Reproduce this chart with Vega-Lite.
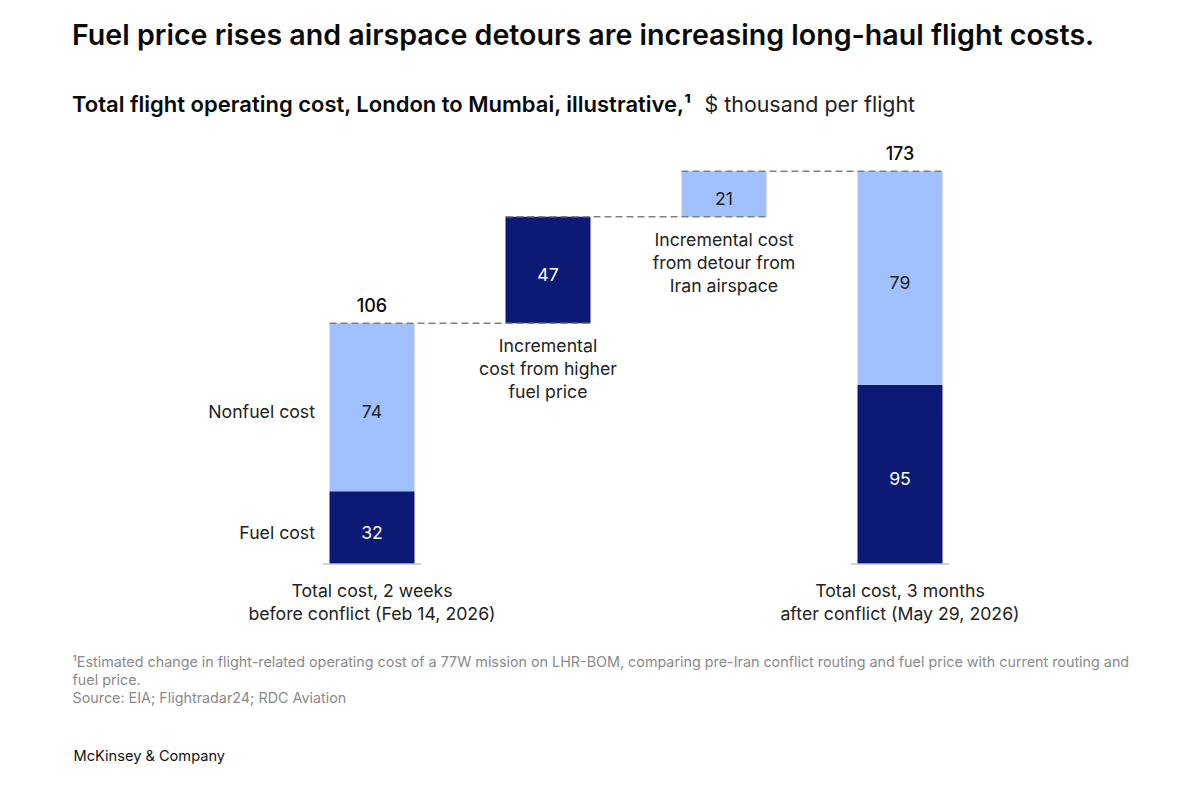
{
  "$schema": "https://vega.github.io/schema/vega-lite/v6.json",
  "autosize": {"type": "none"},
  "padding": {"left": 284, "top": 144, "right": 212, "bottom": 235},
  "width": 704,
  "height": 420,
  "background": "white",
  "title": {
    "text": "Fuel price rises and airspace detours are increasing long-haul flight costs.",
    "subtitle": "Total flight operating cost, London to Mumbai, illustrative,¹",
    "anchor": "start",
    "frame": "group",
    "dx": -212,
    "offset": -22,
    "font": "Inter",
    "fontSize": 28.6,
    "fontWeight": 600,
    "color": "#0a0a0a",
    "subtitleFont": "Inter",
    "subtitleFontSize": 22,
    "subtitleFontWeight": 600,
    "subtitleColor": "#0a0a0a",
    "subtitlePadding": 44
  },
  "config": {
    "view": {"stroke": null},
    "font": "Inter",
    "text": {"font": "Inter", "fontSize": 17.7, "color": "#222222"},
    "axis": {"grid": false}
  },
  "datasets": {
    "bars": [
      {"step": "Before", "part": "Fuel cost", "low": 0, "high": 32, "label": 32},
      {"step": "Before", "part": "Nonfuel cost", "low": 32, "high": 106, "label": 74},
      {"step": "Fuel", "part": "Fuel cost", "low": 106, "high": 153, "label": 47},
      {"step": "Detour", "part": "Nonfuel cost", "low": 153, "high": 173, "label": 21},
      {"step": "After", "part": "Fuel cost", "low": 0, "high": 79, "label": 95},
      {"step": "After", "part": "Nonfuel cost", "low": 79, "high": 173, "label": 79}
    ],
    "links": [
      {"from": "Before", "to": "Fuel", "level": 106},
      {"from": "Fuel", "to": "Detour", "level": 153},
      {"from": "Detour", "to": "After", "level": 173}
    ],
    "totals": [
      {"step": "Before", "total": 106, "zero": 0},
      {"step": "After", "total": 173, "zero": 0}
    ],
    "notes": [
      {"step": "Fuel", "low": 106, "note": "Incremental|cost from higher|fuel price"},
      {"step": "Detour", "low": 153, "note": "Incremental cost|from detour from|Iran airspace"}
    ]
  },
  "resolve": {
    "axis": {"x": "independent", "y": "independent"},
    "scale": {"color": "independent"}
  },
  "layer": [
    {
      "data": {"name": "bars"},
      "mark": {"type": "bar"},
      "encoding": {
        "x": {
          "field": "step",
          "type": "nominal",
          "sort": null,
          "scale": {"domain": ["Before", "Fuel", "Detour", "After"], "paddingInner": 0.517, "paddingOuter": 0.2585},
          "axis": {
            "orient": "bottom",
            "values": ["Before", "After"],
            "domain": false,
            "ticks": false,
            "labelAngle": 0,
            "labelFont": "Inter",
            "labelFontSize": 17.7,
            "labelColor": "#222222",
            "labelPadding": 18,
            "labelLineHeight": 23,
            "labelBaseline": "top",
            "labelLimit": 400,
            "labelExpr": "datum.value == 'Before' ? ['Total cost, 2 weeks', 'before conflict (Feb 14, 2026)'] : ['Total cost, 3 months', 'after conflict (May 29, 2026)']",
            "title": ["¹Estimated change in flight-related operating cost of a 77W mission on LHR-BOM, comparing pre-Iran conflict routing and fuel price with current routing and", "\u00a0fuel price.", "\u00a0Source: EIA; Flightradar24; RDC Aviation"],
            "titleFont": "Inter",
            "titleFontSize": 14.33,
            "titleFontWeight": 400,
            "titleColor": "#8a8a8a",
            "titleAlign": "left",
            "titleAnchor": "start",
            "titleBaseline": "alphabetic",
            "titleLineHeight": 18,
            "titleLimit": 1100,
            "titleX": -212,
            "titleY": 102
          }
        },
        "y": {
          "field": "low",
          "type": "quantitative",
          "scale": {"domain": [0, 185]},
          "axis": {
            "domain": false,
            "ticks": false,
            "labels": false,
            "title": "$ thousand per flight",
            "titleFont": "Inter",
            "titleFontSize": 21.4,
            "titleFontWeight": 400,
            "titleColor": "#222222",
            "titleAngle": 0,
            "titleAlign": "left",
            "titleBaseline": "alphabetic",
            "titleX": 420,
            "titleY": -33
          }
        },
        "y2": {"field": "high"},
        "color": {
          "field": "part",
          "type": "nominal",
          "scale": {"domain": ["Fuel cost", "Nonfuel cost"], "range": ["#0d1a75", "#a0c1fe"]},
          "legend": null
        }
      }
    },
    {
      "data": {"name": "bars"},
      "transform": [
        {"fold": ["low", "high"], "as": ["edge", "edgeValue"]},
        {"aggregate": [{"op": "mean", "field": "edgeValue", "as": "mid"}], "groupby": ["step", "part", "label"]}
      ],
      "mark": {"type": "text", "align": "center", "baseline": "middle", "dy": 6},
      "encoding": {
        "x": {"field": "step", "type": "nominal", "sort": null, "axis": null},
        "y": {"field": "mid", "type": "quantitative", "scale": {"domain": [0, 185]}, "axis": null},
        "text": {"field": "label", "type": "quantitative"},
        "color": {
          "field": "part",
          "type": "nominal",
          "scale": {"domain": ["Fuel cost", "Nonfuel cost"], "range": ["#ffffff", "#222222"]},
          "legend": null
        }
      }
    },
    {
      "data": {"name": "bars"},
      "transform": [
        {"filter": "datum.step == 'Before'"},
        {"fold": ["low", "high"], "as": ["edge", "edgeValue"]},
        {"aggregate": [{"op": "mean", "field": "edgeValue", "as": "mid"}], "groupby": ["step", "part"]}
      ],
      "mark": {"type": "text", "align": "right", "baseline": "middle", "dx": -57, "dy": 6},
      "encoding": {
        "x": {"field": "step", "type": "nominal", "sort": null, "axis": null},
        "y": {"field": "mid", "type": "quantitative", "scale": {"domain": [0, 185]}, "axis": null},
        "text": {"field": "part", "type": "nominal"}
      }
    },
    {
      "data": {"name": "links"},
      "mark": {"type": "rule", "color": "#808080", "strokeWidth": 1.5, "strokeDash": [7, 4], "xOffset": -42.5, "x2Offset": 42.5},
      "encoding": {
        "x": {"field": "from", "type": "nominal", "sort": null, "axis": null},
        "x2": {"field": "to"},
        "y": {"field": "level", "type": "quantitative", "scale": {"domain": [0, 185]}, "axis": null}
      }
    },
    {
      "data": {"name": "totals"},
      "mark": {"type": "rule", "color": "#c4c4c4", "strokeWidth": 1.5, "xOffset": -49, "x2Offset": 49},
      "encoding": {
        "x": {
          "field": "step",
          "type": "nominal",
          "sort": null,
          "axis": {
            "orient": "bottom",
            "labels": false,
            "domain": false,
            "ticks": false,
            "title": "McKinsey & Company",
            "titleFont": "Inter",
            "titleFontSize": 14.6,
            "titleFontWeight": 400,
            "titleColor": "#111111",
            "titleAlign": "left",
            "titleAnchor": "start",
            "titleBaseline": "alphabetic",
            "titleX": -211,
            "titleY": 196
          }
        },
        "x2": {"field": "step"},
        "y": {"field": "zero", "type": "quantitative", "scale": {"domain": [0, 185]}, "axis": null}
      }
    },
    {
      "data": {"name": "totals"},
      "mark": {"type": "text", "align": "center", "baseline": "bottom", "dy": -7, "color": "#0a0a0a", "fontWeight": 500, "fontSize": 18},
      "encoding": {
        "x": {"field": "step", "type": "nominal", "sort": null, "axis": null},
        "y": {"field": "total", "type": "quantitative", "scale": {"domain": [0, 185]}, "axis": null},
        "text": {"field": "total", "type": "quantitative"}
      }
    },
    {
      "data": {"name": "notes"},
      "mark": {"type": "text", "align": "center", "baseline": "top", "dy": 15, "lineBreak": "|", "lineHeight": 23},
      "encoding": {
        "x": {"field": "step", "type": "nominal", "sort": null, "axis": null},
        "y": {"field": "low", "type": "quantitative", "scale": {"domain": [0, 185]}, "axis": null},
        "text": {"field": "note", "type": "nominal"}
      }
    }
  ]
}
